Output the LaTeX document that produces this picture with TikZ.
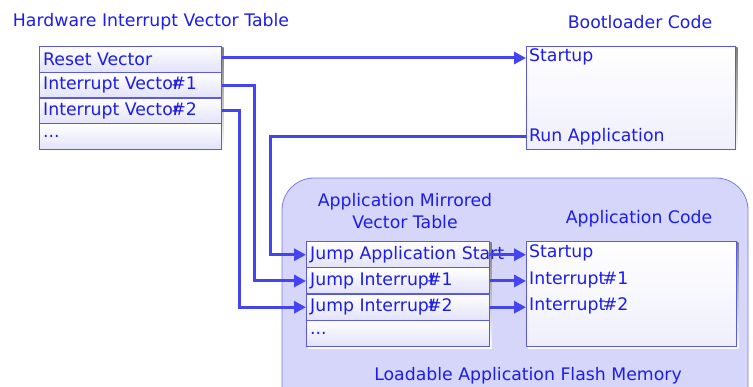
\documentclass[tikz,border=0pt]{standalone}
\usepackage{fontspec}
\setmainfont{DejaVu Sans}
\usetikzlibrary{arrows.meta,positioning,calc}
\definecolor{ink}{HTML}{1C1CEC}
\definecolor{wire}{HTML}{4444F2}
\definecolor{edge}{HTML}{5A5AE6}
\definecolor{rowlo}{HTML}{E2E2FA}
\definecolor{regionfill}{HTML}{D6D6FA}
\definecolor{regionedge}{HTML}{7A7AE0}
\definecolor{shade}{HTML}{D2D2E6}
\tikzset{
  x=1pt, y=-1pt,
  every node/.style={font=\fontsize{17.3}{22}\selectfont, text=ink},
  title/.style={inner sep=0pt},
  cell/.style={draw=edge, line width=1.2pt, top color=white, bottom color=rowlo,
    minimum height=#1, inner sep=0pt, anchor=north west},
  cell/.default=25.75pt,
  lbl/.style={anchor=west, inner sep=0pt},
  codebox/.style={draw=edge, line width=1.2pt, top color=white, bottom color=rowlo!55},
  conn/.style={draw=wire, line width=3pt, -{Triangle[length=12pt,width=12pt]}}
}
\newcommand{\tightnum}[2][0.5em]{\kern-#1\#{#2}}
\begin{document}
\begin{tikzpicture}
\useasboundingbox (0,0) rectangle (753,387);

% loadable application region
\begin{scope}
\clip (0,0) rectangle (753,387);
\fill[regionfill, draw=regionedge, line width=0.8pt, rounded corners=32pt]
  (282,178) rectangle (748,420);
\end{scope}

% titles
\node[title] (hwtitle) at (151,22) {Hardware Interrupt Vector Table};
\node[title] (bltitle) at (640,22) {Bootloader Code};
\node[title, align=center] (mirtitle) at (405,211) {Application Mirrored\\Vector Table};
\node[title] (apptitle) at (639,219) {Application Code};
\node[title] (regiontitle) at (528,376) {Loadable Application Flash Memory};

% hardware vector table
\fill[shade] (41,48) rectangle (223.5,151.5);
\node[cell, minimum width=182pt] (hw0) at (39,46) {};
\node[cell, minimum width=182pt] (hw1) at (39,71.75) {};
\node[cell, minimum width=182pt] (hw2) at (39,97.5) {};
\node[cell, minimum width=182pt] (hw3) at (39,123.25) {};
\node[lbl] (reset) at ([xshift=4pt]hw0.west) {Reset Vector};
\node[lbl] (iv1) at ([xshift=4pt]hw1.west) {Interrupt Vector\tightnum{1}};
\node[lbl] (iv2) at ([xshift=4pt]hw2.west) {Interrupt Vector\tightnum{2}};
\node[lbl] (ivdots) at ([xshift=4pt]hw3.west) {...};

% bootloader code box
\fill[shade] (528,48) rectangle (737.5,151.5);
\node[codebox, minimum width=209pt, minimum height=103pt, anchor=north west] (boot) at (526,46) {};
\node[lbl] (bstart) at (529,56.5) {Startup};
\node[lbl] (runapp) at (529,136.5) {Run Application};

% mirrored vector table
\fill[shade] (308,243) rectangle (491.5,348.5);
\node[cell=26.25pt, minimum width=183pt] (mv0) at (306,241) {};
\node[cell=26.25pt, minimum width=183pt] (mv1) at (306,267.25) {};
\node[cell=26.25pt, minimum width=183pt] (mv2) at (306,293.5) {};
\node[cell=26.25pt, minimum width=183pt] (mv3) at (306,319.75) {};
\node[lbl] (jstart) at ([xshift=4pt]mv0.west) {Jump Application Start};
\node[lbl] (j1) at ([xshift=4pt]mv1.west) {Jump Interrupt\tightnum{1}};
\node[lbl] (j2) at ([xshift=4pt]mv2.west) {Jump Interrupt\tightnum{2}};
\node[lbl] (jdots) at ([xshift=4pt]mv3.west) {...};

% application code box
\fill[shade] (528,243) rectangle (738.5,348.5);
\node[codebox, minimum width=210pt, minimum height=105pt, anchor=north west] (app) at (526,241) {};
\node[lbl] (astart) at (529,253) {Startup};
\node[lbl] (ai1) at (529,280) {Interrupt\tightnum[0.15em]{1}};
\node[lbl] (ai2) at (529,306) {Interrupt\tightnum[0.15em]{2}};

% routing columns
\coordinate (busR) at (270,200);
\coordinate (bus1) at (254,200);
\coordinate (bus2) at (239,200);

% connectors
\draw[conn] (hw0.east |- 0,58) -- (boot.west |- 0,58);
\draw[conn] (boot.west |- runapp) -| (busR) |- (mv0.west);
\draw[conn] (hw1.east) -| (bus1) |- (mv1.west);
\draw[conn] (hw2.east) -| (bus2) |- (mv2.west);
\draw[conn] (mv0.east) -- (app.west |- mv0.east);
\draw[conn] (mv1.east) -- (app.west |- mv1.east);
\draw[conn] (mv2.east) -- (app.west |- mv2.east);
\end{tikzpicture}
\end{document}
